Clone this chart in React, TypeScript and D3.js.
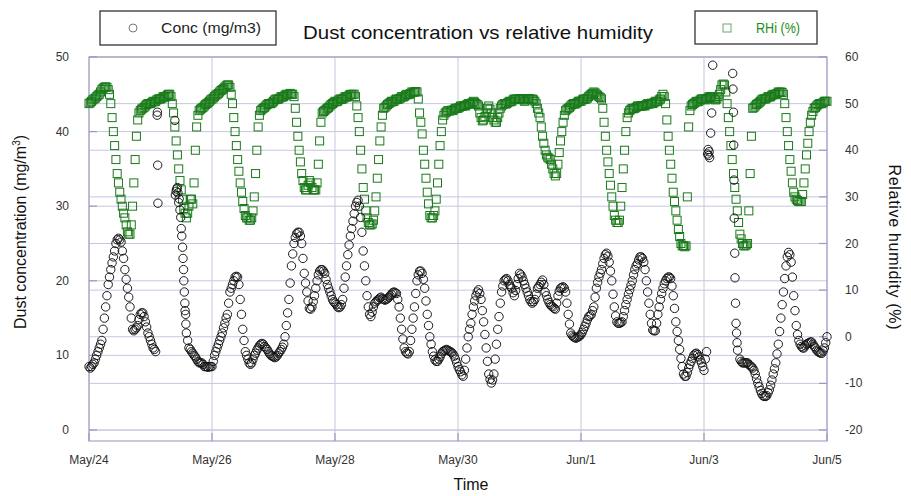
import React from "react";
import * as d3 from "d3";

// ---- data: half-hourly samples starting May/24 00:00 ----
const X_TICK_LABELS = ["May/24", "May/26", "May/28", "May/30", "Jun/1", "Jun/3", "Jun/5"];
const X_TICK_HOURS = [0, 48, 96, 144, 192, 240, 288];
const LEFT_TICKS = [0, 10, 20, 30, 40, 50];
const RIGHT_TICKS = [-20, -10, 0, 10, 20, 30, 40, 50, 60];
const SAMPLE_HOURS = 0.5;

// Relative humidity (%), every 30 min (one row per day)
const RH_VALUES = [
  50, 50.2, 50.5, 50.8, 51, 51.2, 51.5, 51.8, 52, 52.5, 53, 53.3, 53.5, 53.6, 53.5, 53, 52, 50, 47, 44, 41, 38, 35, 33, 31, 29.5, 28, 26.5, 25.5, 24, 22.5, 22, 22, 24, 28, 33, 38, 43, 46.5, 48, 48.5, 48.8, 49, 49.2, 49.5, 49.8, 50, 50,
  50, 50.2, 50.5, 50.4, 50.5, 50.8, 51, 51, 51, 51.2, 51.5, 51.4, 51.5, 51.8, 52, 52, 51.5, 50, 48, 45, 42, 39, 36, 33.5, 31.5, 29.5, 27.5, 26.5, 25.5, 26.5, 28, 29.5, 29.5, 28.5, 33, 40, 45, 47.5, 48.5, 48.8, 49, 49.2, 49.5, 49.8, 50, 50.2, 50.5, 50.8,
  51, 51.2, 51.5, 51.8, 52, 52.2, 52.5, 52.8, 53, 53.2, 53.5, 53.8, 54, 54, 53.5, 52, 50, 47, 44, 41, 38, 35.5, 33, 31, 29, 27.5, 26, 25.5, 25.5, 25, 25, 25.5, 27, 30, 35, 40, 45, 47.5, 48.5, 48.8, 49, 49.2, 49.5, 49.8, 50, 50, 50, 50.2,
  50.5, 50.8, 51, 50.9, 51, 51.2, 51.5, 51.4, 51.5, 51.8, 52, 51.9, 52, 52.2, 52, 52, 51.5, 49, 46, 43, 40, 37.5, 35, 33.5, 32, 31.5, 31.5, 32.5, 33.5, 33, 32, 31.5, 31.5, 31.5, 33, 37, 42, 46, 48, 48.3, 48.5, 48.8, 49, 49.2, 49.5, 49.8, 50, 50.2,
  50.5, 50.4, 50.5, 50.8, 51, 50.9, 51, 51.2, 51.5, 51.4, 51.5, 51.8, 52, 51.9, 52, 52, 51.5, 49.5, 47, 44, 40, 36, 32, 29.5, 27, 25.5, 24.5, 24, 24, 24.2, 25, 27, 30, 34, 38, 42, 45, 47.5, 49, 49.2, 49.5, 49.8, 50, 50.2, 50.5, 50.4, 50.5, 50.8,
  51, 50.9, 51, 51.2, 51.5, 51.4, 51.5, 51.8, 52, 51.9, 52, 52.2, 52.5, 52.4, 52.5, 52.6, 52.5, 51, 48, 46, 43.5, 40, 37, 34, 31, 28.5, 26, 25.5, 25.5, 26, 27, 29.5, 33, 37, 41, 44, 46.5, 47.5, 48, 48.2, 48.5, 48.4, 48.5, 48.6, 48.5, 48.8, 49, 49,
  49, 49.2, 49.5, 49.4, 49.5, 49.6, 49.5, 49.8, 50, 49.9, 50, 50.2, 50.5, 50.3, 50, 49.8, 49.5, 48, 47, 46.3, 46.5, 47.2, 48, 49, 49.5, 48.8, 48, 47, 46.5, 46, 46, 47, 48, 49, 49.5, 49.8, 50, 49.9, 50, 50.2, 50.5, 50.4, 50.5, 50.8, 51, 50.9, 51, 51,
  51, 51.1, 51, 50.8, 50.5, 50.8, 51, 51.1, 51, 50.9, 51, 50.8, 50.5, 50, 49, 48, 47, 45, 43, 41.5, 40, 39, 38.5, 38.3, 38, 37, 36, 35, 34.5, 35, 37, 39.5, 42, 44, 46, 47.5, 48.5, 48.8, 49, 49.2, 49.5, 49.8, 50, 49.9, 50, 50.2, 50.5, 50.5,
  50.5, 50.8, 51, 50.9, 51, 51.2, 51.5, 51.8, 52, 52.2, 52.5, 52.3, 52, 51.8, 51.5, 51.3, 51, 49, 46, 43, 40, 37.5, 35, 32.5, 30, 28, 26, 25, 24.5, 24.5, 25, 28, 32, 36, 40, 44, 47, 48, 48.5, 48.8, 49, 48.9, 49, 49.2, 49.5, 49.4, 49.5, 49.5,
  49.5, 49.6, 49.5, 49.8, 50, 49.9, 50, 50.1, 50, 50.2, 50.5, 50.4, 50.5, 50.8, 51, 51.5, 52, 51.5, 50, 46.5, 43, 40, 37, 34, 31, 29, 27, 25, 23, 21.5, 20, 19.5, 19.5, 19.3, 19.5, 30, 45, 48.5, 49.5, 49.8, 50, 50.2, 50.5, 50.4, 50.5, 50.8, 51, 51,
  51, 50.8, 51, 51.2, 51.5, 51.3, 51.5, 51.2, 51, 50.8, 51, 51.5, 52, 53, 54, 54.2, 54, 52.5, 50, 47, 44, 41, 38, 35, 32, 29.5, 27, 24.5, 22, 21, 20, 19.5, 19.5, 19.7, 20, 27, 35, 43, 49, 49.2, 49.5, 49.8, 50, 50.2, 50.5, 50.8, 51, 51,
  51, 51.2, 51.5, 51.4, 51.5, 51.8, 52, 51.9, 52, 52.2, 52.5, 52.4, 52.5, 52.4, 52, 50, 47, 44, 41, 38, 35.5, 33, 31, 30, 29.5, 29.2, 29, 29, 29, 30.5, 33, 36, 39, 41.5, 44, 46, 47.5, 48.3, 49, 49.2, 49.5, 49.8, 50, 50, 50, 50.2, 50.5, 50.5, 50.5,
];

// Dust concentration (mg/m3), every 30 min (null = no reading at that slot)
const CONC_VALUES: (number | null)[] = [
  8.5, 8.3, 8.5, 8.8, 9, 9.5, 10, 10.5, 11, 11.5, 12, 13.5, 15, 16.5, 18, 19.5, 20.5, 21.5, 22.4, 23.2, 24, 25, 25.5, 25.7, 25.5, 25.2, 24, 23, 21.5, 20.2, 19, 17.8, 16.5, 15, 13.5, 13.3, 13.5, 13.7, 14, 14.8, 15.5, 15.7, 15.7, 15.2, 14.5, 13.8, 13, 12.5,
  12, 11.5, 11, 10.8, 10.5, null, null, null, null, null, null, null, null, null, null, null, null, null, null, null, 32, 32.5, 30.5, 29.5, 27, 24.5, 20, 16, 13, 12, 11, 10.8, 10.5, 10.3, 10, 9.8, 9.5, 9.2, 9, 9, 9, 8.8, 8.5, 8.5, 8.5, 8.4, 8.5, 8.5,
  8.5, 9.2, 10, 10.5, 11, 11.5, 12, 12.5, 13, 13.7, 14.3, 15, 15.5, 17, 18.5, 19, 19.5, 20, 20.5, 20.6, 20.5, 19.5, 17.5, 15.5, 13.5, 12, 10.5, 10, 9.5, 9, 8.8, 9, 9.5, 10, 10.3, 10.7, 11, 11.3, 11.5, 11.6, 11.5, 11.2, 11, 10.8, 10.5, 10.2, 10, 9.9,
  9.8, 9.7, 9.8, 10, 10.3, 10.5, 10.8, 11.1, 11.5, 12.5, 14, 15.7, 17.5, 19.7, 22, 23.6, 25, 25.8, 26.3, 26.5, 26.5, 26, 25, 23, 21, 19.7, 18.5, 17.3, 16.3, 16.2, 16.5, 17.2, 18, 19, 20, 20.8, 21.3, 21.5, 21.5, 21.3, 21, 20.2, 19.5, 19, 18.5, 18, 17.5, 17.2,
  17, 16.8, 16.5, 16.4, 16.5, 16.8, 17.5, 19, 20.5, 22, 23.5, 24.8, 26, 27, 28, 29, 30, 30.5, 30.8, 30, 28.5, 26.5, 24, 22, 20, 18, 16.5, 15.5, 15.2, 15.8, 16.5, 17, 17.2, 17.4, 17.5, 17.7, 17.8, 17.6, 17.5, 17.4, 17.5, 17.6, 17.8, 18, 18.2, 18.4, 18.5, 18.4,
  18.3, 17.5, 16.5, 15, 13.5, 12.2, 11, 10.5, 10.3, 10.2, 10.5, 12, 13.5, 15, 16.5, 18.3, 20, 20.8, 21.3, 21.3, 21, 20.2, 19, 17.3, 15.5, 14, 12.5, 11.5, 10.5, 9.9, 9.4, 9.2, 9.2, 9.5, 9.8, 10.2, 10.5, 10.6, 10.7, 10.8, 10.7, 10.6, 10.5, 10.4, 10.2, 9.9, 9.5, 9,
  8.5, 8.1, 7.8, 7.4, 7.2, 8, 9.5, 11, 12.5, 13.5, 14.3, 15.5, 16.5, 17.3, 18, 18.5, 18.8, 18.3, 17.5, 16, 14.5, 12.8, 11, 9.2, 7.5, 6.8, 6.3, 6.7, 7.5, 9.5, 11.5, 13.5, 15.2, 17, 18.5, 19.3, 20, 20.2, 20.3, 20, 19.5, 19.2, 19, 18.4, 18, 18.7, 19.5, 20.3,
  21, 20.8, 20.5, 20, 19.5, 19, 18.5, 18, 17.5, 17.2, 17, 17.2, 17.5, 18.2, 19, 19.2, 19.5, 19.8, 20.1, 19.5, 18.5, 18, 17.5, 17.1, 16.8, 16.6, 16.5, 16.3, 16.2, 17, 18, 18.6, 19, 19.1, 19.2, 19, 18.5, 17, 15.5, 14.2, 13, 12.7, 12.5, 12.4, 12.3, 12.4, 12.5, 12.6,
  12.8, 13.1, 13.5, 13.9, 14.3, 14.8, 15.2, 15.3, 15.5, 16, 16.5, 17.8, 19, 19.8, 20.5, 21, 21.5, 22.3, 23, 23.5, 23.7, 23.3, 22.5, 21.3, 20, 18.2, 16.5, 15.3, 14.5, 14.3, 14.3, 14.4, 14.5, 15.2, 16, 16.8, 17.5, 18.2, 18.8, 19.4, 20, 20.8, 21.5, 22, 22.3, 22.8, 23.2, 23.2,
  23, 22.5, 21.5, 20, 18.5, 17, 15.5, 14.3, 13.4, 13.3, 13.3, 14.3, 15.5, 16.5, 17.5, 18.3, 19, 19.6, 20, 20.3, 20.5, 20.5, 20.3, 19.3, 18, 16.3, 14.5, 13.2, 12, 10.8, 9.6, 8.5, 7.5, 7.2, 7.2, 7.7, 8.3, 8.8, 9.2, 9.6, 10, 10.2, 10.3, 10.1, 9.8, 9.4, 9, 8.5,
  8, 9.5, 10.5, null, null, null, null, null, null, null, null, null, null, null, null, null, null, null, null, null, null, null, null, null, null, null, null, null, 9.5, 9.2, 9, 9, 9, 9, 9, 8.8, 8.6, 8.5, 8.3, 8, 7.5, 6.9, 6.3, 5.8, 5.3, 4.9, 4.6, 4.5,
  4.5, 4.6, 5, 5.4, 6, 6.7, 7.5, 8.2, 9, 10.2, 11.5, 13.2, 15, 16.8, 18.5, 20.3, 22, 23.2, 23.8, 23.5, 22.5, 20.5, 18, 16, 14, 12.8, 12, 11.5, 11.2, 11, 11, 11.3, 11.5, 11.6, 11.7, 11.8, 11.8, 11.5, 11.2, 11, 10.7, 10.5, 10.4, 10.3, 10.3, 10.6, 11, 11.7, 12.5,
];

// Extra concentration readings during fast changes (hour, value)
const CONC_BURST_HOURS = [
  26.6, 26.7, 26.8, 26.9, 33.5, 33.7, 34.2, 34.7, 35.2, 35.8, 36.2, 36.7, 36.9, 37.2, 37.4, 37.7, 37.8,
  241.4, 241.6, 241.8, 242.0, 242.2, 242.6, 243.0, 243.4,
  251.2, 251.3, 251.5, 251.6, 251.7, 251.8, 252.0, 252.1, 252.3, 252.5, 252.7, 252.9, 253.1,
];
const CONC_BURST_VALUES = [
  42.2, 42.6, 35.5, 30.4, 41.5, 31.5, 32.3, 31.8, 31, 28.5, 26, 23, 21.5, 18.5, 17, 15.5, 14.2,
  37, 37.6, 36.8, 37.3, 36.5, 39.8, 42.5, 48.9,
  47.8, 45.7, 42.6, 38.2, 33.5, 28.4, 23.7, 20.4, 17, 14.3, 13, 11.7, 10.7,
];

const FONT = "'Liberation Sans', Arial, Helvetica, sans-serif";
const W = 911;
const H = 496;
const PL = 89, PR = 827, PT = 57, PB = 430, AXB = 441;

export default function App() {
  const x = d3.scaleLinear().domain([0, 288]).range([PL, PR]);
  const yL = d3.scaleLinear().domain([0, 50]).range([PB, PT]);
  const yR = d3.scaleLinear().domain([-20, 60]).range([PB, PT]);

  const rhPts = RH_VALUES.map((v, i) => ({ t: i * SAMPLE_HOURS, v }));
  const concPts = CONC_VALUES.map((v, i) => ({ t: i * SAMPLE_HOURS, v })).filter((d) => d.v !== null) as {
    t: number;
    v: number;
  }[];
  const burstPts = CONC_BURST_HOURS.map((t, i) => ({ t, v: CONC_BURST_VALUES[i] }));
  const allConc = [...concPts, ...burstPts];

  const gridColor = "#c6c6df";
  const frameColor = "#a4a4c8";
  const tickColor = "#9a9ac0";
  const textColor = "#333";

  return (
    <svg
      width={W}
      height={H}
      style={{ position: "absolute", left: 0, top: 0, background: "#fff" }}
      fontFamily={FONT}
    >
      <rect x={0} y={0} width={W} height={H} fill="#fff" />

      {/* horizontal gridlines */}
      {LEFT_TICKS.map((t) => (
        <line key={"gl" + t} x1={PL} x2={PR} y1={yL(t)} y2={yL(t)} stroke={gridColor} strokeWidth={1} />
      ))}
      {RIGHT_TICKS.map((t) => (
        <line key={"gr" + t} x1={PL} x2={PR} y1={yR(t)} y2={yR(t)} stroke={gridColor} strokeWidth={1} />
      ))}
      {/* vertical gridlines */}
      {X_TICK_HOURS.map((h) => (
        <line key={"gv" + h} x1={x(h)} x2={x(h)} y1={PT} y2={AXB} stroke={gridColor} strokeWidth={1} />
      ))}

      {/* frame */}
      <rect x={PL} y={PT} width={PR - PL} height={AXB - PT} fill="none" stroke={frameColor} strokeWidth={1.2} />

      {/* ticks */}
      {LEFT_TICKS.map((t) => (
        <line key={"tl" + t} x1={PL} x2={PL + 8} y1={yL(t)} y2={yL(t)} stroke={tickColor} strokeWidth={1.2} />
      ))}
      {RIGHT_TICKS.map((t) => (
        <line key={"tr" + t} x1={PR - 8} x2={PR} y1={yR(t)} y2={yR(t)} stroke={tickColor} strokeWidth={1.2} />
      ))}
      {X_TICK_HOURS.map((h) => (
        <line key={"tx" + h} x1={x(h)} x2={x(h)} y1={AXB - 8} y2={AXB} stroke={tickColor} strokeWidth={1.2} />
      ))}

      {/* RH squares */}
      <g fill="none" stroke="#187a18" strokeWidth={1}>
        {rhPts.map((d, i) => (
          <rect key={"s" + i} x={x(d.t) - 4} y={yR(d.v) - 4} width={8} height={8} />
        ))}
      </g>

      {/* concentration circles */}
      <g fill="none" stroke="#111" strokeWidth={0.95}>
        {allConc.map((d, i) => (
          <circle key={"c" + i} cx={x(d.t)} cy={yL(d.v)} r={4.2} />
        ))}
      </g>

      {/* left tick labels */}
      {LEFT_TICKS.map((t) => (
        <text key={"ll" + t} x={69} y={yL(t) + 4} textAnchor="end" fontSize={12} fill={textColor}>
          {t}
        </text>
      ))}
      {/* right tick labels */}
      {RIGHT_TICKS.map((t) => (
        <text key={"rl" + t} x={845} y={yR(t) + 4} textAnchor="start" fontSize={12} fill={textColor}>
          {t}
        </text>
      ))}
      {/* x tick labels */}
      {X_TICK_HOURS.map((h, i) => (
        <text key={"xl" + h} x={x(h)} y={464} textAnchor="middle" fontSize={12} fill={textColor}>
          {X_TICK_LABELS[i]}
        </text>
      ))}

      {/* axis titles */}
      <text x={471} y={490} textAnchor="middle" fontSize={16} fill="#111">
        Time
      </text>
      <text transform="translate(26,232) rotate(-90)" textAnchor="middle" fontSize={16} fill="#111">
        Dust concentration (mg/m
        <tspan dy={-6} fontSize={10}>3</tspan>
        <tspan dy={6}>)</tspan>
      </text>
      <text
        transform="translate(889,247) rotate(90)"
        textAnchor="middle"
        fontSize={16}
        fill="#111"
        textLength={165}
        lengthAdjust="spacing"
      >
        Relative humidity (%)
      </text>

      {/* title */}
      <text x={478} y={39} textAnchor="middle" fontSize={19} fill="#111" textLength={350} lengthAdjust="spacingAndGlyphs">
        Dust concentration vs relative humidity
      </text>

      {/* legends */}
      <rect x={100} y={11} width={176} height={34} fill="#fff" stroke="#333" strokeWidth={1.3} />
      <circle cx={133} cy={28} r={4} fill="none" stroke="#777" strokeWidth={1} />
      <text x={161} y={33} fontSize={15} fill="#222" textLength={100} lengthAdjust="spacingAndGlyphs">
        Conc (mg/m3)
      </text>

      <rect x={695} y={11} width={122} height={33} fill="#fff" stroke="#333" strokeWidth={1.3} />
      <rect x={723} y={24} width={8} height={8} fill="none" stroke="#6aa86a" strokeWidth={1} />
      <text x={756} y={33} fontSize={15} fill="#1d8a1d" textLength={44} lengthAdjust="spacingAndGlyphs">
        RHi (%)
      </text>
    </svg>
  );
}
